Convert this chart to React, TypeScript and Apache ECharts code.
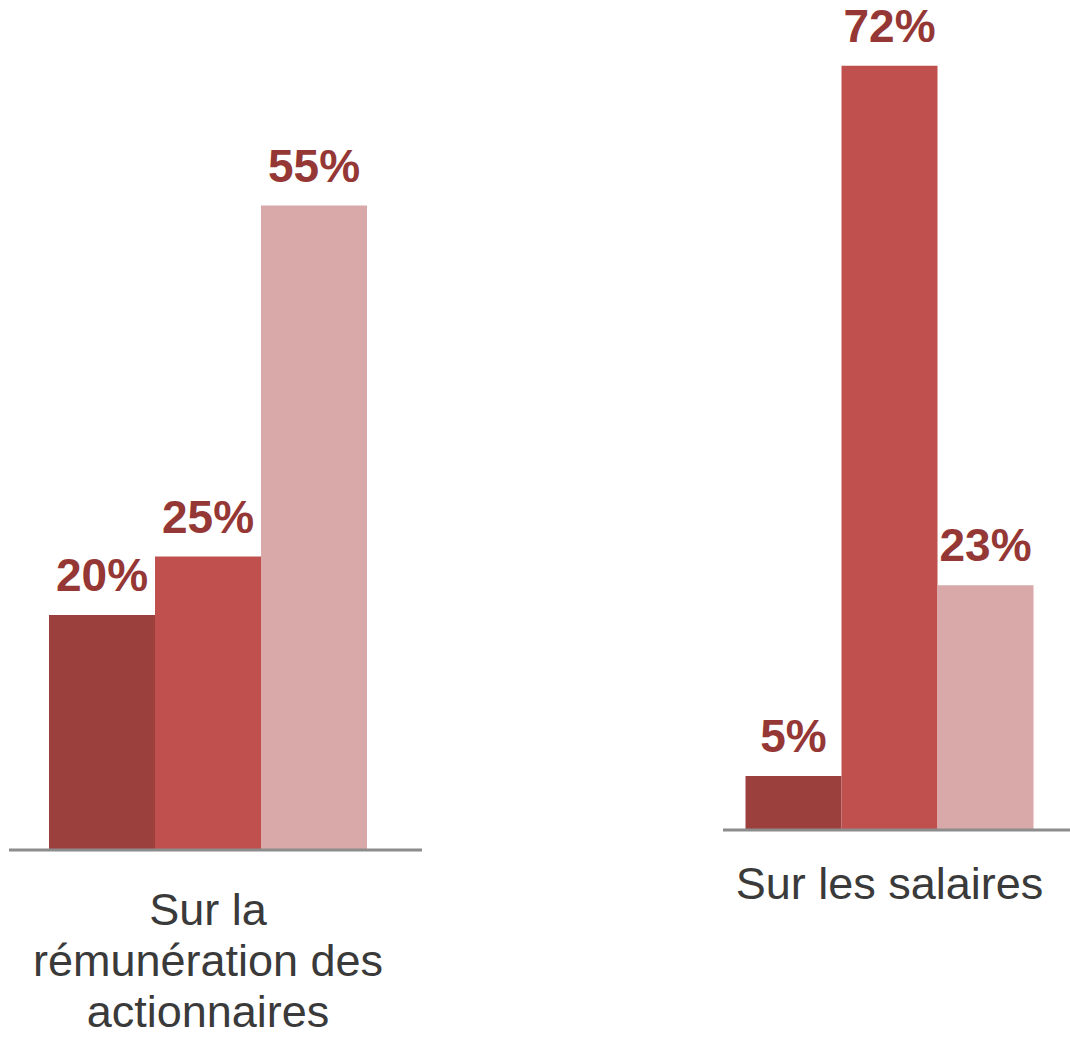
import React, { useEffect, useRef } from "react";
import * as echarts from "echarts";

const categories = ["Sur la\nrémunération des\nactionnaires", "Sur les salaires"];
const seriesNames = ["Série 1", "Série 2", "Série 3"];
const serieA = [20, 5];
const serieB = [25, 72];
const serieC = [55, 23];
const colors = ["#9C403E", "#C0504D", "#D9A9A9"];

export default function App() {
  const ref = useRef<HTMLDivElement>(null);
  useEffect(() => {
    const chart = echarts.init(ref.current!, null, { renderer: "svg" });
    const font = "'Liberation Sans', Arial, sans-serif";
    const values = [serieA, serieB, serieC];
    const barWidths = [106, 96];
    const series: any[] = [];
    for (let g = 0; g < 2; g++) {
      for (let s = 0; s < 3; s++) {
        series.push({
          type: "bar",
          name: seriesNames[s],
          xAxisIndex: g,
          yAxisIndex: g,
          data: [values[s][g]],
          barWidth: barWidths[g],
          barGap: "0%",
          itemStyle: { color: colors[s] },
          label: {
            show: true,
            position: "top",
            distance: 17,
            formatter: "{c}%",
            color: "#953735",
            fontWeight: "bold",
            fontSize: 46,
            fontFamily: font,
          },
        });
      }
    }
    const axisLabel = (margin: number) => ({
      color: "#3A3A3A",
      fontSize: 45,
      lineHeight: 51,
      fontFamily: font,
      margin,
      interval: 0,
    });
    chart.setOption({
      animation: false,
      grid: [
        { left: 9, width: 398, top: 147, height: 702 },
        { left: 723, width: 333, top: 34, height: 795 },
      ],
      xAxis: [
        {
          type: "category",
          gridIndex: 0,
          data: [categories[0]],
          axisLine: { show: false },
          axisTick: { show: false },
          axisLabel: axisLabel(35),
        },
        {
          type: "category",
          gridIndex: 1,
          data: [categories[1]],
          axisLine: { show: false },
          axisTick: { show: false },
          axisLabel: axisLabel(29),
        },
      ],
      yAxis: [
        { type: "value", gridIndex: 0, min: 0, max: 60, show: false, splitLine: { show: false } },
        { type: "value", gridIndex: 1, min: 0, max: 75, show: false, splitLine: { show: false } },
      ],
      graphic: [
        {
          type: "line",
          shape: { x1: 9, y1: 850, x2: 422, y2: 850 },
          style: { stroke: "#8C8C8C", lineWidth: 3 },
          z: 10,
        },
        {
          type: "line",
          shape: { x1: 723, y1: 830, x2: 1070, y2: 830 },
          style: { stroke: "#8C8C8C", lineWidth: 3 },
          z: 10,
        },
      ],
      series,
    });
    return () => chart.dispose();
  }, []);
  return (
    <div
      ref={ref}
      style={{ position: "fixed", left: 0, top: 0, width: 1070, height: 1040, background: "#fff" }}
    />
  );
}
